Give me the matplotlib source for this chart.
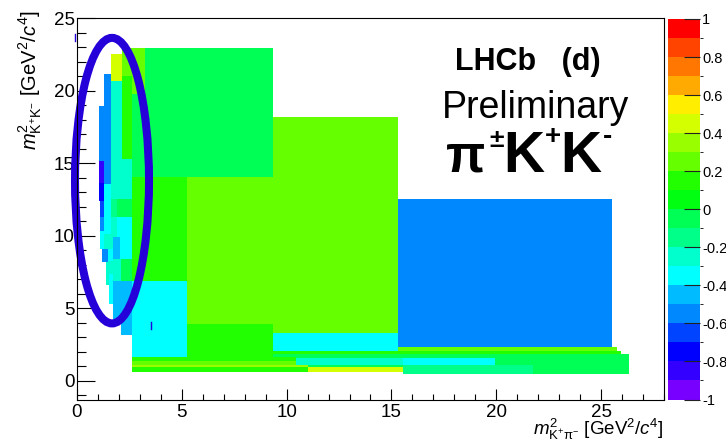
import matplotlib
matplotlib.use("Agg")
import matplotlib.pyplot as plt
import numpy as np
from matplotlib.colors import ListedColormap, BoundaryNorm
from matplotlib.cm import ScalarMappable
from matplotlib.patches import Ellipse
from matplotlib.ticker import MultipleLocator

plt.rcParams['font.family'] = ['Liberation Sans', 'DejaVu Sans']
plt.rcParams['mathtext.fontset'] = 'custom'
plt.rcParams['mathtext.rm'] = 'Liberation Sans'
plt.rcParams['mathtext.it'] = 'Liberation Sans:italic'
plt.rcParams['mathtext.bf'] = 'Liberation Sans:bold'

# ── Adaptive-binning asymmetry map: one entry per bin ───────────────────────
cell_x0 = [2.15, 2.62, 3.24, 2.62, 2.15, 1.62, 1.62, 1.29, 1.05, 1.05,
           1.05, 1.10, 1.10, 1.29, 1.62, 1.62, 1.91, 1.62, 2.05, 1.91,
           1.72, 1.29, 1.10, 1.19, 1.48, 1.62, 1.48, 1.53, 1.38, 1.72,
           2.10, 1.72, 2.10,
           2.62, 2.62, 5.25, 9.33, 5.25, 9.33, 15.31, 15.31, 9.33, 9.33,
           2.62, 2.62, 10.45, 15.55, 19.94, 2.62, 2.62, 11.02, 11.02,
           15.55, 21.76]
cell_x1 = [2.62, 3.24, 9.33, 3.24, 2.62, 2.15, 2.15, 1.62, 1.29, 1.29,
           1.29, 1.29, 1.29, 1.62, 2.62, 1.91, 2.62, 1.91, 2.62, 2.05,
           2.05, 1.62, 1.29, 1.48, 1.72, 1.72, 1.72, 1.72, 1.53, 2.10,
           2.62, 2.62, 2.62,
           5.25, 5.25, 9.33, 15.31, 9.33, 15.31, 25.52, 25.76, 25.95, 26.34,
           10.45, 10.45, 15.55, 19.94, 26.34, 11.02, 11.02, 15.55, 15.55,
           21.76, 26.34]
cell_y0 = [21.04, 19.79, 14.05, 14.05, 15.29, 20.69, 15.29, 13.56, 15.16, 13.63,
           12.39, 11.28, 10.31, 10.10, 12.53, 11.28, 11.28, 9.90, 8.37, 9.90,
           8.37, 9.07, 9.07, 8.17, 8.24, 9.07, 7.34, 5.26, 6.60, 6.85,
           6.85, 4.22, 3.18,
           6.85, 1.66, 3.88, 3.32, 1.66, 2.08, 2.35, 2.08, 1.87, 1.59,
           1.38, 1.11, 1.11, 1.11, 1.11, 0.97, 0.62, 0.97, 0.62,
           0.48, 0.48]
cell_y1 = [22.98, 22.98, 22.98, 19.79, 21.04, 22.56, 20.69, 21.18, 18.96, 15.16,
           13.63, 12.39, 11.28, 13.56, 15.29, 12.53, 12.53, 11.28, 11.28, 11.28,
           9.90, 10.10, 10.31, 9.07, 9.07, 9.90, 8.24, 7.34, 8.17, 8.37,
           8.37, 6.85, 4.22,
           14.05, 6.85, 14.05, 18.20, 3.88, 3.32, 12.53, 2.35, 2.08, 1.87,
           1.66, 1.38, 1.59, 1.59, 1.59, 1.11, 0.97, 1.11, 0.97,
           1.11, 1.11]
cell_val = [0.25, 0.25, -0.05, -0.05, 0.15, 0.45, -0.25, -0.55, -0.55, -0.85,
            -0.75, -0.65, -0.55, -0.35, -0.25, -0.15, -0.05, -0.25, -0.35, -0.35,
            -0.45, -0.25, -0.35, -0.55, -0.35, -0.25, -0.25, -0.35, -0.25, -0.25,
            -0.05, -0.45, -0.45,
            0.15, -0.35, 0.25, 0.25, 0.15, -0.35, -0.55, 0.25, 0.15, -0.05,
            0.15, 0.25, -0.25, -0.35, -0.05, 0.35, 0.15, -0.05, 0.45,
            -0.15, -0.05]

# stray error-bar ticks
dash_x = [-0.10, 3.52]
dash_y0 = [23.46, 3.58]
dash_y1 = [23.94, 4.03]

# 20-level palette from -1 to 1
palette = ['#7700FF', '#3300FF', '#0000FF', '#0044FF', '#0088FF',
           '#00BBFF', '#00FFFF', '#00FFCC', '#00FF88', '#00FF55',
           '#00FF11', '#22FF00', '#66FF00', '#99FF00', '#D4FF00',
           '#FFEE00', '#FFAA00', '#FF7700', '#FF4400', '#FF0000']
levels = np.linspace(-1, 1, 21)
cbar_ticks = [-1, -0.8, -0.6, -0.4, -0.2, 0, 0.2, 0.4, 0.6, 0.8, 1]
cbar_labels = ['-1', '-0.8', '-0.6', '-0.4', '-0.2', '0', '0.2', '0.4', '0.6', '0.8', '1']

W, H = 726, 440


def fpx(x, y):
    """pixel position (from top-left) -> figure fraction"""
    return x / W, 1 - y / H


fig = plt.figure(figsize=(W / 100, H / 100), dpi=100, facecolor='white')
ax = fig.add_axes([77 / W, 1 - 399.5 / H, (664 - 77) / W, (399.5 - 18.3) / H])
cax = fig.add_axes([667.6 / W, 1 - 399.5 / H, 32.4 / W, (399.5 - 19) / H])

cmap = ListedColormap(palette)
norm = BoundaryNorm(levels, cmap.N)

x0 = np.array(cell_x0)
x1 = np.array(cell_x1)
y0 = np.array(cell_y0)
y1 = np.array(cell_y1)
ax.bar(x0, y1 - y0, width=x1 - x0, bottom=y0, align='edge',
       color=cmap(norm(np.array(cell_val))), linewidth=0, zorder=1)

for dx, a, b in zip(dash_x, dash_y0, dash_y1):
    ax.plot([dx, dx], [a, b], color='#2200DD', lw=1.0, clip_on=False, zorder=4)

# highlight ring around the low-mass strip
ring = Ellipse((1.67, 13.8), 3.53, 19.7, fill=False, edgecolor='#2600D9',
               linewidth=5.8, clip_on=False, zorder=5)
ax.add_patch(ring)

ax.set_xlim(0, 28)
ax.set_ylim(-1.3, 25)
ax.set_xticks([0, 5, 10, 15, 20, 25])
ax.set_yticks([0, 5, 10, 15, 20, 25])
ax.xaxis.set_minor_locator(MultipleLocator(1))
ax.yaxis.set_minor_locator(MultipleLocator(1))
ax.tick_params(axis='x', which='major', direction='in', length=8.2, width=0.8,
               pad=3, labelsize=13.5)
ax.tick_params(axis='x', which='minor', direction='in', length=4.1, width=0.8)
ax.tick_params(axis='y', which='major', direction='in', length=12.7, width=0.8,
               pad=1.5, labelsize=13.5)
ax.tick_params(axis='y', which='minor', direction='in', length=6.3, width=0.8)
for s in ax.spines.values():
    s.set_linewidth(0.8)
    s.set_zorder(6)

cb = fig.colorbar(ScalarMappable(norm=norm, cmap=cmap), cax=cax, ticks=cbar_ticks)
cb.outline.set_visible(False)
cax.set_yticklabels(cbar_labels)
cax.tick_params(direction='in', length=11.5, width=0.8, pad=1.5, labelsize=10.5,
                color='#222222')

# axis titles
fig.text(*fpx(30, 10), r'$m^{2}_{\mathrm{K^{+}K^{-}}}$ [GeV$^{2}$/$c^{4}$]',
         rotation=90, ha='center', va='top', fontsize=14.5)
fig.text(*fpx(664, 434.5), r'$m^{2}_{\mathrm{K^{+}\pi^{-}}}$ [GeV$^{2}$/$c^{4}$]',
         ha='right', va='baseline', fontsize=13.5)

# labels
fig.text(*fpx(455, 70), 'LHCb   (d)', fontsize=22, fontweight='bold',
         ha='left', va='baseline')
fig.text(*fpx(442, 118), 'Preliminary', fontsize=27, ha='left', va='baseline')
fig.text(*fpx(446, 172), 'π', fontsize=37, fontweight='bold', ha='left', va='baseline')
fig.text(*fpx(489, 147), '±', fontsize=19, fontweight='bold', ha='left', va='baseline')
fig.text(*fpx(503, 172), 'K', fontsize=41, fontweight='bold', ha='left', va='baseline')
fig.text(*fpx(545, 144), '+', fontsize=20, fontweight='bold', ha='left', va='baseline')
fig.text(*fpx(560, 172), 'K', fontsize=41, fontweight='bold', ha='left', va='baseline')
fig.text(*fpx(603, 144), '-', fontsize=20, fontweight='bold', ha='left', va='baseline')

fig.savefig('out.png', dpi=100, facecolor='white')
